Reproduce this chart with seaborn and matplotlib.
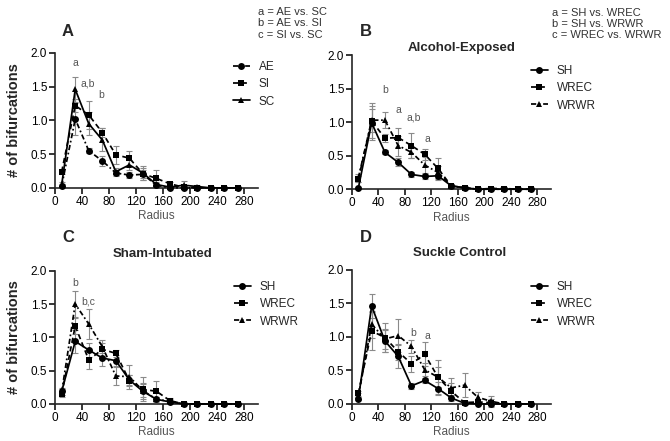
import pandas as pd
import seaborn as sns
import matplotlib.pyplot as plt

radius = [10, 30, 50, 70, 90, 110, 130, 150, 170, 190, 210, 230, 250, 270]

# panel A - group comparison
A_AE = [0.03, 1.02, 0.55, 0.40, 0.22, 0.19, 0.20, 0.04, 0.00, 0.00, 0.00, 0.00, 0.00, 0.00]
A_AE_err = [0.02, 0.24, 0.04, 0.07, 0.04, 0.05, 0.06, 0.03, 0.00, 0.00, 0.00, 0.00, 0.00, 0.00]
A_SI = [0.24, 1.22, 1.08, 0.82, 0.49, 0.44, 0.21, 0.14, 0.06, 0.01, 0.00, 0.00, 0.00, 0.00]
A_SI_err = [0.04, 0.10, 0.21, 0.07, 0.13, 0.11, 0.09, 0.13, 0.03, 0.02, 0.01, 0.00, 0.00, 0.00]
A_SC = [0.05, 1.46, 0.95, 0.71, 0.24, 0.34, 0.22, 0.05, 0.01, 0.04, 0.02, 0.00, 0.00, 0.00]
A_SC_err = [0.03, 0.18, 0.17, 0.17, 0.05, 0.07, 0.11, 0.04, 0.01, 0.06, 0.02, 0.00, 0.00, 0.00]

# panel B - alcohol exposed
B_SH = [0.02, 0.99, 0.55, 0.40, 0.22, 0.19, 0.20, 0.05, 0.02, 0.00, 0.00, 0.00, 0.00, 0.00]
B_SH_err = [0.02, 0.25, 0.03, 0.06, 0.04, 0.04, 0.07, 0.02, 0.01, 0.00, 0.00, 0.00, 0.00, 0.00]
B_WREC = [0.15, 1.02, 0.76, 0.77, 0.65, 0.52, 0.31, 0.05, 0.02, 0.00, 0.01, 0.01, 0.00, 0.00]
B_WREC_err = [0.05, 0.26, 0.06, 0.14, 0.19, 0.08, 0.15, 0.03, 0.02, 0.01, 0.01, 0.02, 0.00, 0.00]
B_WRWR = [0.17, 1.03, 1.03, 0.65, 0.55, 0.36, 0.25, 0.05, 0.02, 0.00, 0.00, 0.00, 0.00, 0.00]
B_WRWR_err = [0.06, 0.17, 0.12, 0.15, 0.08, 0.12, 0.10, 0.03, 0.02, 0.00, 0.00, 0.00, 0.00, 0.00]

# panel C - sham intubated
C_SH = [0.19, 0.94, 0.81, 0.69, 0.65, 0.36, 0.19, 0.07, 0.03, 0.00, 0.00, 0.00, 0.00, 0.00]
C_SH_err = [0.05, 0.17, 0.10, 0.12, 0.08, 0.08, 0.12, 0.03, 0.02, 0.00, 0.00, 0.00, 0.00, 0.00]
C_WREC = [0.15, 1.17, 0.66, 0.82, 0.76, 0.35, 0.22, 0.19, 0.05, 0.00, 0.00, 0.00, 0.00, 0.00]
C_WREC_err = [0.04, 0.12, 0.14, 0.10, 0.05, 0.08, 0.18, 0.15, 0.04, 0.00, 0.00, 0.00, 0.00, 0.00]
C_WRWR = [0.18, 1.50, 1.20, 0.86, 0.42, 0.41, 0.20, 0.07, 0.04, 0.00, 0.00, 0.00, 0.00, 0.00]
C_WRWR_err = [0.05, 0.20, 0.22, 0.10, 0.14, 0.18, 0.10, 0.04, 0.03, 0.00, 0.00, 0.00, 0.00, 0.00]

# panel D - suckle control
D_SH = [0.08, 1.46, 0.94, 0.71, 0.27, 0.35, 0.23, 0.09, 0.01, 0.00, 0.00, 0.00, 0.00, 0.00]
D_SH_err = [0.02, 0.18, 0.16, 0.17, 0.04, 0.04, 0.10, 0.04, 0.01, 0.00, 0.00, 0.00, 0.00, 0.00]
D_WREC = [0.16, 1.09, 0.99, 0.78, 0.60, 0.74, 0.40, 0.19, 0.02, 0.03, 0.02, 0.00, 0.00, 0.00]
D_WREC_err = [0.04, 0.28, 0.22, 0.12, 0.12, 0.18, 0.25, 0.12, 0.02, 0.05, 0.05, 0.00, 0.00, 0.00]
D_WRWR = [0.12, 1.19, 0.97, 1.02, 0.86, 0.51, 0.40, 0.24, 0.28, 0.10, 0.04, 0.00, 0.00, 0.00]
D_WRWR_err = [0.04, 0.20, 0.15, 0.25, 0.10, 0.10, 0.15, 0.14, 0.18, 0.08, 0.08, 0.00, 0.00, 0.00]

# significance letters (x, y, text)
A_sig = [(30, 1.85, "a"), (49, 1.55, "a,b"), (69, 1.38, "b")]
B_sig = [(51, 1.48, "b"), (71, 1.18, "a"), (93, 1.07, "a,b"), (114, 0.75, "a")]
C_sig = [(30, 1.81, "b"), (49, 1.54, "b,c")]
D_sig = [(93, 1.06, "b"), (114, 1.01, "a")]

A_key = ["a = AE vs. SC", "b = AE vs. SI", "c = SI vs. SC"]
B_key = ["a = SH vs. WREC", "b = SH vs. WRWR", "c = WREC vs. WRWR"]

sns.set_style("ticks")
plt.rcParams["font.family"] = ["Liberation Sans", "DejaVu Sans"]

fig = plt.figure(figsize=(6.7, 4.41), dpi=100)

dot = (3, 1.5, 1, 1.5)
dash = (3, 2)


def panel(rect, groups, names, styles, marks, sig, letter, letter_xy, title, title_xy, leg_xy, ylabel):
    ax = fig.add_axes(rect)
    rows = []
    for name, vals in zip(names, groups):
        for r, v in zip(radius, vals[0]):
            rows.append({"Radius": r, "val": v, "group": name})
    df = pd.DataFrame(rows)
    for name, vals in zip(names, groups):
        ax.errorbar(radius, vals[0], yerr=vals[1], fmt="none", ecolor="#8a8a8a",
                    elinewidth=0.8, capsize=2, capthick=0.8, zorder=1, clip_on=False)
    sns.lineplot(data=df, x="Radius", y="val", hue="group", style="group",
                 palette={n: "black" for n in names}, dashes=dict(zip(names, styles)),
                 markers=dict(zip(names, marks)), markersize=5, markeredgewidth=0,
                 linewidth=1.25, ax=ax, clip_on=False, zorder=3)
    ax.set_xlim(0, 300)
    ax.set_ylim(0, 2.0)
    ax.set_xticks([0, 40, 80, 120, 160, 200, 240, 280])
    ax.set_yticks([0.0, 0.5, 1.0, 1.5, 2.0])
    ax.set_yticklabels(["0.0", "0.5", "1.0", "1.5", "2.0"])
    ax.tick_params(labelsize=8.5, length=4, width=1.1, pad=1.5, colors="black")
    for s in ["left", "bottom"]:
        ax.spines[s].set_linewidth(1.2)
    sns.despine(ax=ax)
    ax.set_xlabel("Radius", fontsize=8.5, color="#555555", labelpad=2)
    if ylabel:
        ax.set_ylabel("# of bifurcations", fontsize=10.5, fontweight="bold")
        ax.yaxis.set_label_coords(-0.165, 0.5)
    else:
        ax.set_ylabel("")
    for x, y, t in sig:
        ax.text(x, y, t, fontsize=7.5, color="#555555", ha="center", va="center")
    handles, labels = ax.get_legend_handles_labels()
    ax.legend(handles, labels, loc="upper left", bbox_to_anchor=leg_xy,
              bbox_transform=fig.transFigure, frameon=False, fontsize=8.5,
              handlelength=1.4, handletextpad=0.8, labelspacing=0.45,
              borderpad=0, borderaxespad=0)
    fig.text(letter_xy[0] / 670, 1 - letter_xy[1] / 441, letter, fontsize=12,
             fontweight="bold", ha="left", va="center")
    if title:
        fig.text(title_xy[0] / 670, 1 - title_xy[1] / 441, title, fontsize=9.5,
                 fontweight="bold", ha="center", va="center")
    return ax


panel([0.082, 0.574, 0.303, 0.306],
      [(A_AE, A_AE_err), (A_SI, A_SI_err), (A_SC, A_SC_err)],
      ["AE", "SI", "SC"], [dot, dash, ""], ["o", "s", "^"], A_sig,
      "A", (62, 32), None, None, (233 / 670, 1 - 61 / 441), True)

panel([0.525, 0.571, 0.297, 0.304],
      [(B_SH, B_SH_err), (B_WREC, B_WREC_err), (B_WRWR, B_WRWR_err)],
      ["SH", "WREC", "WRWR"], ["", dash, dot], ["o", "s", "^"], B_sig,
      "B", (360, 32), "Alcohol-Exposed", (462, 48), (531 / 670, 1 - 65 / 441), False)

panel([0.082, 0.084, 0.303, 0.302],
      [(C_SH, C_SH_err), (C_WREC, C_WREC_err), (C_WRWR, C_WRWR_err)],
      ["SH", "WREC", "WRWR"], ["", dash, dot], ["o", "s", "^"], C_sig,
      "C", (62, 238), "Sham-Intubated", (163, 254), (234 / 670, 1 - 281 / 441), True)

panel([0.525, 0.084, 0.297, 0.304],
      [(D_SH, D_SH_err), (D_WREC, D_WREC_err), (D_WRWR, D_WRWR_err)],
      ["SH", "WREC", "WRWR"], ["", dash, dot], ["o", "s", "^"], D_sig,
      "D", (360, 238), "Suckle Control", (460, 253), (531 / 670, 1 - 281 / 441), False)

for i, t in enumerate(A_key):
    fig.text(258 / 670, 1 - (12 + 11.5 * i) / 441, t, fontsize=8, color="#333333", va="center")
for i, t in enumerate(B_key):
    fig.text(552 / 670, 1 - (13 + 11 * i) / 441, t, fontsize=8, color="#333333", va="center")

fig.savefig("out.png", dpi=100)
